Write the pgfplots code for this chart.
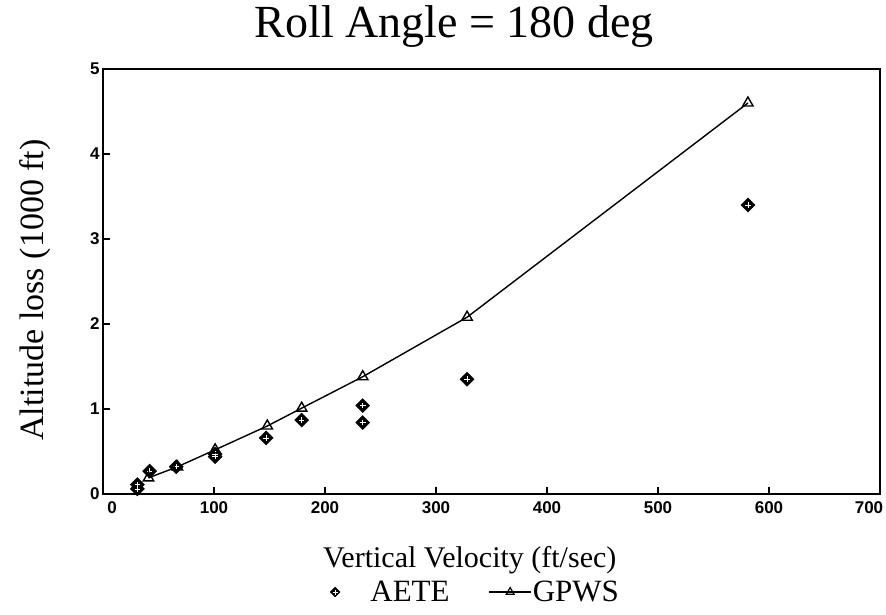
\documentclass[border=0pt]{standalone}
\usepackage{fontspec}
\setmainfont{Liberation Serif}
\newfontfamily\tickfont{Liberation Sans}
\usepackage{pgfplots}
\pgfplotsset{compat=1.18}

\begin{document}
\begin{tikzpicture}
\useasboundingbox (-103pt,-120pt) rectangle (783pt,494pt);
\begin{axis}[
    scale only axis,
    width=777pt, height=425pt,
    xmin=0, xmax=700, ymin=0, ymax=5,
    xtick={0,100,...,700}, ytick={0,1,...,5},
    xticklabels={\makebox[0pt]{\hspace{18pt}0},100,200,300,400,500,600,\makebox[0pt]{700\hspace{22pt}}},
    tick align=inside, xtick pos=bottom, ytick pos=left,
    major tick length=7pt,
    axis line style={line width=1.6pt},
    tick style={line width=1.2pt, black},
    /pgf/number format/assume math mode=true,
    ticklabel style={font=\tickfont\bfseries\fontsize{17}{17}\selectfont},
    xticklabel style={yshift=-4pt},
    title={Roll Angle = 180 deg},
    title style={font=\fontsize{46}{46}\selectfont, at={(axis description cs:0.452,1.059)}, anchor=base},
    xlabel={Vertical Velocity (ft/sec)},
    xlabel style={font=\fontsize{30}{30}\selectfont, at={(axis description cs:0.472,-0.174)}, anchor=base},
    ylabel={Altitude loss (1000 ft)},
    ylabel style={font=\fontsize{34}{34}\selectfont, at={(axis description cs:-0.0772,0.48)}, anchor=base, rotate=0},
    legend columns=2,
    legend style={draw=none, fill=none, inner sep=0pt, at={(0.292,-0.2306)}, anchor=west,
        font=\fontsize{31}{31}\selectfont,
        nodes={inner xsep=1pt},
        /tikz/every odd column/.append style={column sep=0pt},
        /tikz/every even column/.append style={column sep=38pt}},
    legend cell align=left,
]
\addplot[only marks, mark=square*, mark size=5pt, mark options={rotate=45}, black,
    legend image code/.code={
        \draw[mark=square*, mark size=3.5pt, mark options={rotate=45, black}] plot coordinates {(0.3cm,0cm)};
        \draw[white, line width=0.6pt] (0.3cm,-2.5pt) -- (0.3cm,2.5pt) (0.3cm-2.5pt,0cm) -- (0.3cm+2.5pt,0cm);
        \path (1.5cm,0cm);
    }] coordinates {
    (31,0.06) (31,0.11) (42,0.27) (66,0.32) (101,0.44) (101,0.47)
    (147,0.66) (179,0.87) (234,0.84) (234,1.04) (328,1.35) (581,3.40)
};
\addlegendentry{AETE}
\addplot[only marks, forget plot, white, mark=+, mark size=2.8pt, mark options={line width=0.7pt}] coordinates {
    (31,0.06) (31,0.11) (42,0.27) (66,0.32) (101,0.44) (101,0.47)
    (147,0.66) (179,0.87) (234,0.84) (234,1.04) (328,1.35) (581,3.40)
};
\addplot[black, line width=1.4pt, mark=triangle, mark size=6pt,
    mark options={solid, line width=1.4pt},
    legend image code/.code={
        \draw[line width=1.2pt] (0pt,0pt) -- (42pt,0pt);
        \draw[mark=triangle, mark size=4.5pt, mark options={fill=white, line width=1.2pt}] plot coordinates {(21pt,0pt)};
    }] coordinates {
    (41,0.19) (67,0.32) (101,0.52) (148,0.80) (179,1.01)
    (234,1.38) (328,2.08) (581,4.60)
};
\addlegendentry{GPWS}
\end{axis}
\end{tikzpicture}
\end{document}
